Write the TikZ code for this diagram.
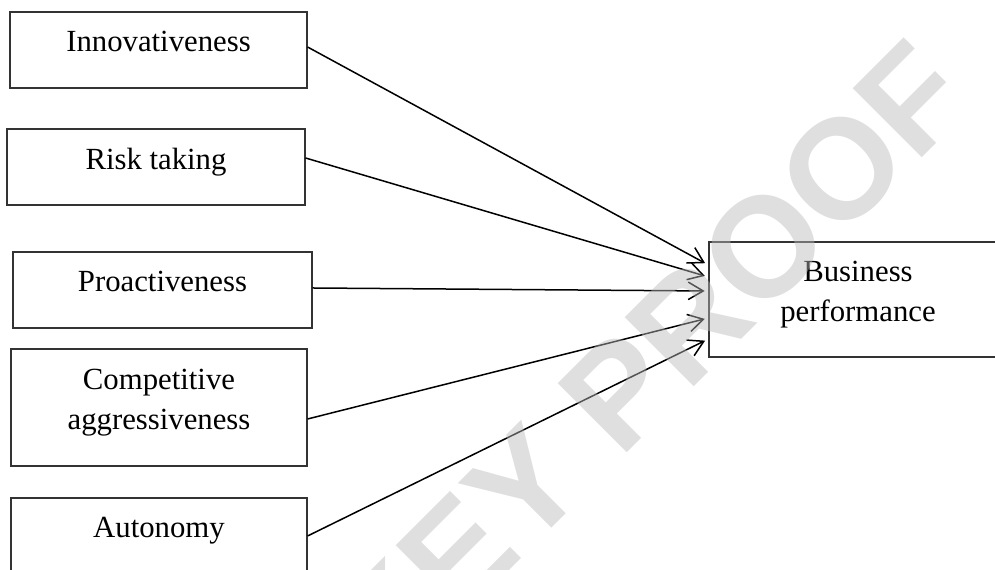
\documentclass[tikz,border=0pt]{standalone}
\usepackage{fontspec}
\setmainfont{Liberation Serif}
\newfontfamily\markfont{Liberation Sans}
\usetikzlibrary{arrows.meta,calc}

\definecolor{markgray}{RGB}{185,185,185}

\tikzset{
  construct/.style={draw=black!80, line width=0.45pt, inner sep=0pt, align=center,
    text depth=6.8pt, font=\fontsize{12.3}{16}\selectfont},
  link/.style={->, line width=0.6pt, shorten >=1.5pt},
  proofmark/.style={font=\markfont\bfseries\fontsize{56.8}{60}\selectfont,
    text=markgray, text opacity=0.46, rotate=45, inner sep=0pt},
  >={Straight Barb[length=6pt,width=7pt]},
}

\begin{document}
\begin{tikzpicture}[x=0.4pt, y=-0.4pt]
  \useasboundingbox (0,0) rectangle (995,570);
  \clip (0,0) rectangle (995,570);

  % dimensions
  \node [construct, minimum width=118.8pt, minimum height=30.4pt] (inno) at (158.5, 50) {Innovativeness};
  \node [construct, minimum width=119.2pt, minimum height=30.4pt] (risk) at (156, 167) {Risk taking};
  \node [construct, minimum width=119.6pt, minimum height=30.4pt] (proa) at (162.5, 290) {Proactiveness};
  \node [construct, minimum width=118.4pt, minimum height=46.8pt] (comp) at (159, 407.5) {Competitive\\aggressiveness};
  \node [construct, minimum width=118.4pt, minimum height=30.4pt] (auto) at (159, 536) {Autonomy};

  % outcome
  \node [construct, minimum width=119.2pt, minimum height=46pt] (bus) at (858, 299.5) {Business\\performance};

  \draw [link] ($(inno.east)+(0,-3)$) -- ($(bus.west)+(0,-34.5)$);
  \draw [link] ($(risk.east)+(0,-9)$) -- ($(bus.west)+(0,-22.5)$);
  \draw [link] ($(proa.east)+(0,-2)$) -- ($(bus.west)+(0,-8.5)$);
  \draw [link] ($(comp.east)+(0,11.5)$) -- ($(bus.west)+(0,18.5)$);
  \draw [link] (auto.east) -- ($(bus.west)+(0,39.5)$);

  \node [proofmark] (mark) at (647, 364) {KEY PROOF};
\end{tikzpicture}
\end{document}
